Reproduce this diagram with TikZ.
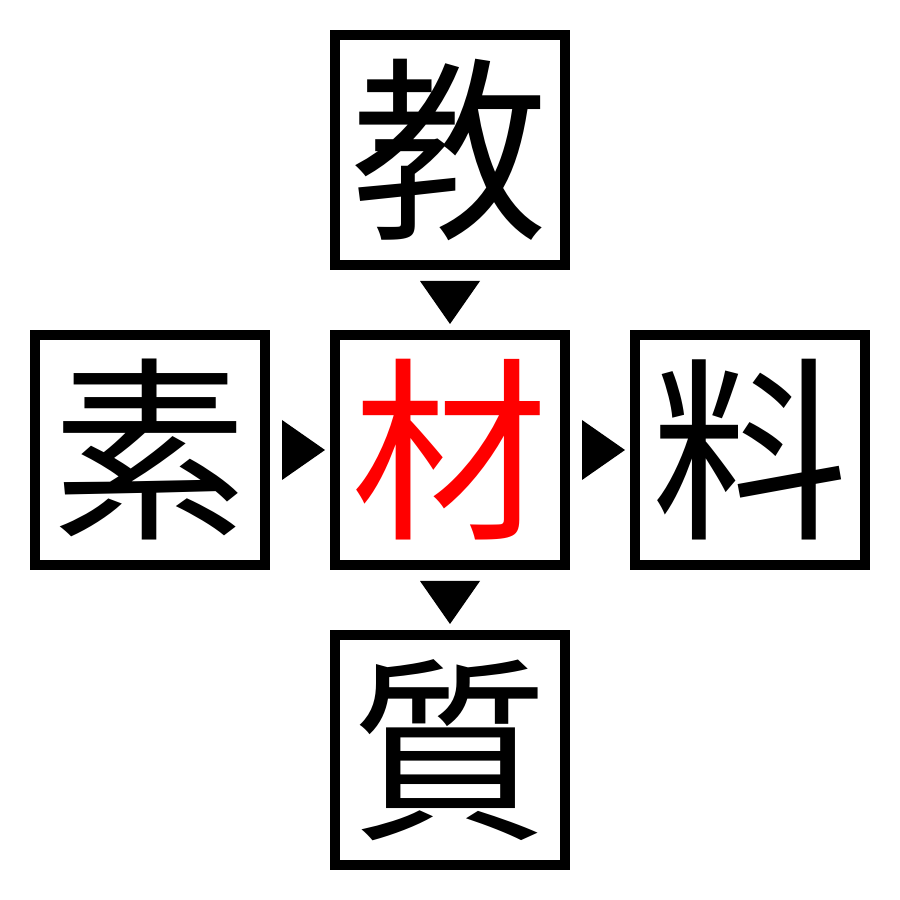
\documentclass[tikz,border=0pt]{standalone}
\usepackage{fontspec}
\newfontfamily\cjk{Noto Sans CJK JP}
\usetikzlibrary{positioning,calc}
\begin{document}
\begin{tikzpicture}[line join=miter,
	box/.style={draw, line width=1mm, minimum size=23mm, inner sep=0pt, font=\cjk\fontsize{56}{56}\selectfont},
	tri/.style={fill=black}]
				\useasboundingbox (0,0) rectangle (9,9);
				\node[box, text=red] (zai) at (4.5,4.5) {材};
				\node[box, above=6mm of zai] (jiao) {教};
				\node[box, left=6mm of zai] (su) {素};
				\node[box, right=6mm of zai] (liao) {料};
				\node[box, below=6mm of zai] (zhi) {質};
				% markers between the boxes
				\fill[tri] ($(jiao.south)+(-0.3,-0.11)$) -- ($(jiao.south)+(0.3,-0.11)$) -- ($(zai.north)+(0,0.06)$) -- cycle;
				\fill[tri] ($(zai.south)+(-0.3,-0.11)$) -- ($(zai.south)+(0.3,-0.11)$) -- ($(zhi.north)+(0,0.06)$) -- cycle;
				\fill[tri] ($(su.east)+(0.12,0.3)$) -- ($(su.east)+(0.12,-0.3)$) -- ($(zai.west)+(-0.05,0)$) -- cycle;
				\fill[tri] ($(zai.east)+(0.12,0.3)$) -- ($(zai.east)+(0.12,-0.3)$) -- ($(liao.west)+(-0.05,0)$) -- cycle;
\end{tikzpicture}
\end{document}
